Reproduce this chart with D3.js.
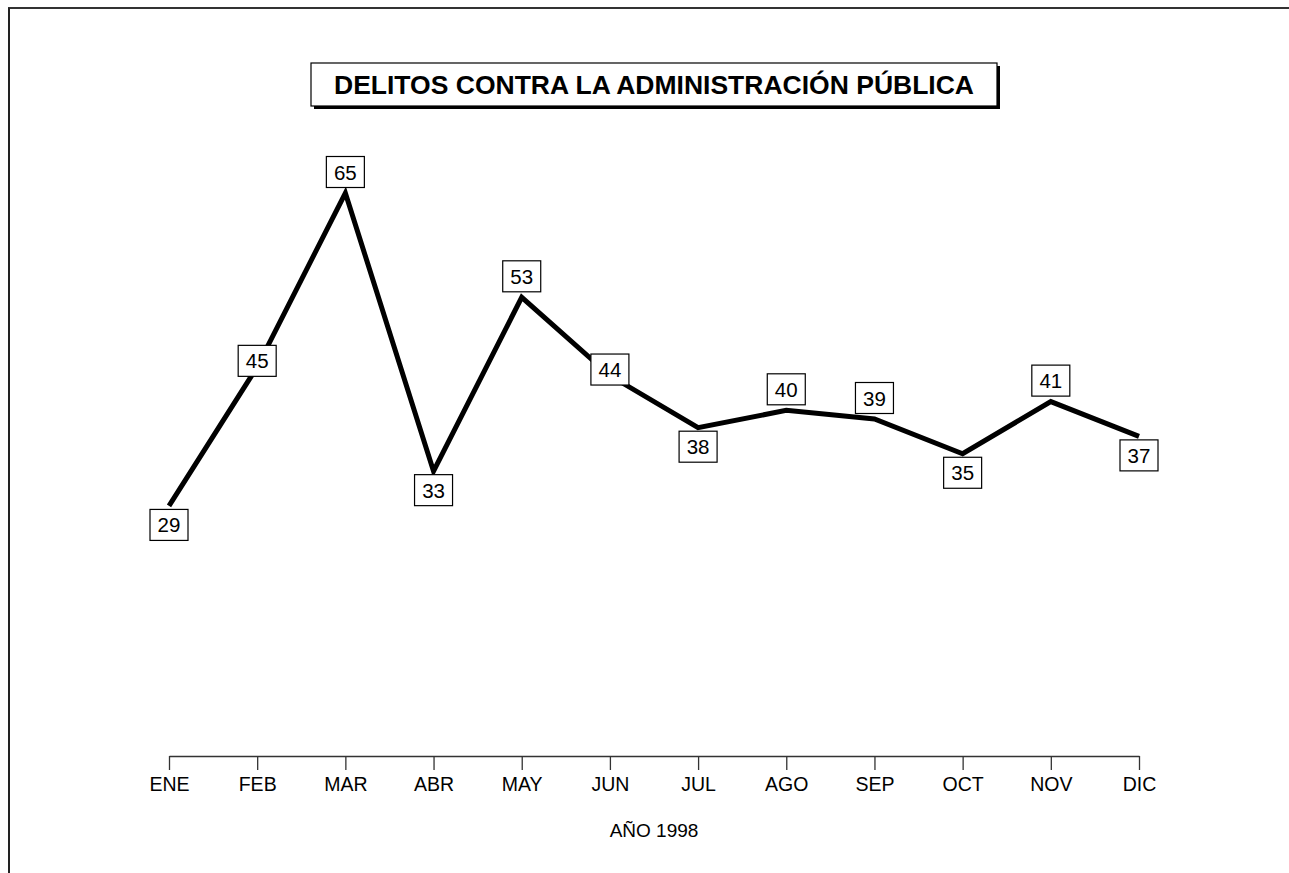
<!DOCTYPE html>
<html>
<head>
<meta charset="utf-8">
<script src="https://cdn.jsdelivr.net/npm/d3@7"></script>
<style>
  html, body { margin: 0; padding: 0; background: #fff; }
  svg { display: block; font-family: "Liberation Sans", Arial, sans-serif; }
</style>
</head>
<body>
<svg id="chart" width="1289" height="873"></svg>
<script>
// ---- data ----
const months = ["ENE","FEB","MAR","ABR","MAY","JUN","JUL","AGO","SEP","OCT","NOV","DIC"];
const values = [29, 45, 65, 33, 53, 44, 38, 40, 39, 35, 41, 37];
const labelPlacement = ["below","on","above","below","above","on","below","above","above","below","above","below"];
const titleText = "DELITOS CONTRA LA ADMINISTRACIÓN PÚBLICA";
const axisTitle = "AÑO 1998";

const svg = d3.select("#chart");

// frame (top and left lines)
svg.append("line").attr("x1", 8).attr("y1", 8).attr("x2", 1289).attr("y2", 8)
  .attr("stroke", "#333").attr("stroke-width", 2);
svg.append("line").attr("x1", 9).attr("y1", 8).attr("x2", 9).attr("y2", 873)
  .attr("stroke", "#222").attr("stroke-width", 2);

// title box with shadow
const tb = {x: 311, y: 63, w: 686, h: 43};
svg.append("rect").attr("x", tb.x + 3).attr("y", tb.y + 3).attr("width", tb.w).attr("height", tb.h)
  .attr("fill", "#000");
svg.append("rect").attr("x", tb.x).attr("y", tb.y).attr("width", tb.w).attr("height", tb.h)
  .attr("fill", "#fff").attr("stroke", "#000").attr("stroke-width", 1.2);
svg.append("text").attr("x", tb.x + tb.w / 2).attr("y", tb.y + tb.h / 2 + 9)
  .attr("text-anchor", "middle").attr("font-size", 25.5).attr("font-weight", "bold")
  .attr("textLength", 640).attr("lengthAdjust", "spacingAndGlyphs")
  .text(titleText);

// scales
const x = d3.scalePoint().domain(months).range([169, 1139]);
const y = d3.scaleLinear().domain([0, 65]).range([758, 193]);

// axis
const axisG = svg.append("g").attr("transform", "translate(0,756)")
  .call(d3.axisBottom(x).tickSize(14).tickSizeOuter(0).tickPadding(7));
axisG.selectAll("path, line").attr("stroke", "#333").attr("stroke-width", 1.3);
axisG.selectAll("text").attr("font-size", 19.5).attr("fill", "#000")
  .attr("font-family", "Liberation Sans, Arial, sans-serif");

svg.append("text").attr("x", (169 + 1139) / 2).attr("y", 837)
  .attr("text-anchor", "middle").attr("font-size", 19).text(axisTitle);

// line
const pts = months.map((m, i) => ({m, v: values[i], p: labelPlacement[i]}));
svg.append("path").datum(pts)
  .attr("d", d3.line().x(d => x(d.m)).y(d => y(d.v)))
  .attr("fill", "none").attr("stroke", "#000").attr("stroke-width", 5)
  .attr("stroke-linejoin", "miter");

// labels
const bw = 38, bh = 31;
const offs = {above: -21, below: 19, on: -6};
const lg = svg.selectAll("g.lbl").data(pts).enter().append("g").attr("class", "lbl")
  .attr("transform", d => `translate(${x(d.m)},${y(d.v) + offs[d.p]})`);
lg.append("rect").attr("x", -bw / 2).attr("y", -bh / 2).attr("width", bw).attr("height", bh)
  .attr("fill", "#fff").attr("stroke", "#000").attr("stroke-width", 1.2);
lg.append("text").attr("text-anchor", "middle").attr("y", 7.5).attr("font-size", 20.5)
  .text(d => d.v);
</script>
</body>
</html>
